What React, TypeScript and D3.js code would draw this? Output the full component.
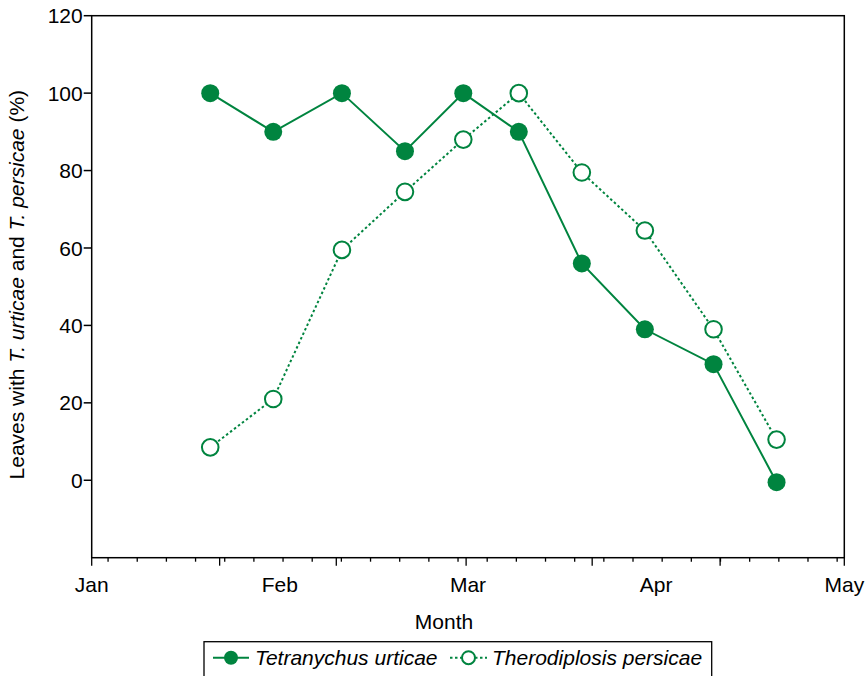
import { useEffect, useRef } from "react";
import * as d3 from "d3";

// sampling dates, in months after 1 Jan
const sampleMonths = [0.63, 0.965, 1.33, 1.665, 1.975, 2.27, 2.605, 2.94, 3.305, 3.64];
const urticae = [100, 90, 100, 85, 100, 90, 56, 39, 30, -0.5];
const persicae = [8.5, 21, 59.5, 74.5, 88, 100, 79.5, 64.5, 39, 10.5];

const monthLabels = ["Jan", "Feb", "Mar", "Apr", "May"];
const majorTicks = [0, 0.68, 1.3, 1.99, 2.66, 3.34, 4];
const yTicks = [0, 20, 40, 60, 80, 100, 120];

const GREEN = "#00843f";
const FONT = "'Liberation Sans', Arial, Helvetica, sans-serif";

export default function App() {
  const svgRef = useRef<SVGSVGElement>(null);

  useEffect(() => {
    if (!svgRef.current) return;
    const svg = d3.select(svgRef.current);
    svg.selectAll("*").remove();

    const left = 91.7, right = 844.3, top = 15.7, bottom = 557.7;
    const x = d3.scaleLinear().domain([0, 4]).range([left, right]);
    const y = d3.scaleLinear().domain([-20, 120]).range([bottom, top]);

    // frame
    svg.append("rect")
      .attr("x", left).attr("y", top)
      .attr("width", right - left).attr("height", bottom - top)
      .attr("fill", "none").attr("stroke", "#000").attr("stroke-width", 1.5);

    // y axis ticks + labels
    const yg = svg.append("g").attr("font-family", FONT).attr("font-size", 21);
    yTicks.forEach((v) => {
      yg.append("line")
        .attr("x1", left - 8).attr("x2", left)
        .attr("y1", y(v)).attr("y2", y(v))
        .attr("stroke", "#000").attr("stroke-width", 1.5);
      yg.append("text")
        .attr("x", left - 9).attr("y", y(v))
        .attr("dy", "0.36em")
        .attr("text-anchor", "end")
        .text(v);
    });

    // x axis: minor ticks, major ticks, month labels
    const minor = d3.range(0.087, 4, 0.155);
    minor.forEach((m) => {
      svg.append("line")
        .attr("x1", x(m)).attr("x2", x(m))
        .attr("y1", bottom).attr("y2", bottom + 4)
        .attr("stroke", "#000").attr("stroke-width", 1.3);
    });
    majorTicks.forEach((m) => {
      svg.append("line")
        .attr("x1", x(m)).attr("x2", x(m))
        .attr("y1", bottom).attr("y2", bottom + 8)
        .attr("stroke", "#000").attr("stroke-width", 1.3);
    });
    monthLabels.forEach((lab, i) => {
      svg.append("text")
        .attr("x", x(i)).attr("y", 592)
        .attr("text-anchor", "middle")
        .attr("font-family", FONT).attr("font-size", 21)
        .text(lab);
    });

    // axis titles
    svg.append("text")
      .attr("x", 444).attr("y", 629)
      .attr("text-anchor", "middle")
      .attr("font-family", FONT).attr("font-size", 21)
      .text("Month");

    const yt = svg.append("text")
      .attr("transform", `translate(24,${(top + bottom) / 2 - 2}) rotate(-90)`)
      .attr("text-anchor", "middle")
      .attr("font-family", FONT).attr("font-size", 21);
    yt.append("tspan").text("Leaves with ");
    yt.append("tspan").attr("font-style", "italic").text("T. urticae");
    yt.append("tspan").text(" and ");
    yt.append("tspan").attr("font-style", "italic").text("T. persicae");
    yt.append("tspan").text(" (%)");

    // series
    const lineU = d3.line<number>().x((_, i) => x(sampleMonths[i])).y((d) => y(d));
    svg.append("path")
      .attr("d", lineU(persicae))
      .attr("fill", "none").attr("stroke", GREEN).attr("stroke-width", 2)
      .attr("stroke-dasharray", "2.5,2.5");
    svg.append("path")
      .attr("d", lineU(urticae))
      .attr("fill", "none").attr("stroke", GREEN).attr("stroke-width", 2);

    svg.selectAll(".pu")
      .data(urticae)
      .enter().append("circle")
      .attr("cx", (_, i) => x(sampleMonths[i]))
      .attr("cy", (d) => y(d))
      .attr("r", 9)
      .attr("fill", GREEN);

    svg.selectAll(".pp")
      .data(persicae)
      .enter().append("circle")
      .attr("cx", (_, i) => x(sampleMonths[i]))
      .attr("cy", (d) => y(d))
      .attr("r", 8.3)
      .attr("fill", "#fff").attr("stroke", GREEN).attr("stroke-width", 2);

    // legend
    const lg = svg.append("g");
    lg.append("rect")
      .attr("x", 204).attr("y", 641.7)
      .attr("width", 507.7).attr("height", 50)
      .attr("fill", "none").attr("stroke", "#000").attr("stroke-width", 1.3);
    const ly = 657.7;
    lg.append("line")
      .attr("x1", 213).attr("x2", 249).attr("y1", ly).attr("y2", ly)
      .attr("stroke", GREEN).attr("stroke-width", 2);
    lg.append("circle").attr("cx", 231).attr("cy", ly).attr("r", 7).attr("fill", GREEN);
    lg.append("text")
      .attr("x", 255).attr("y", ly + 7)
      .attr("font-family", FONT).attr("font-size", 21).attr("font-style", "italic")
      .text("Tetranychus urticae");
    lg.append("line")
      .attr("x1", 450).attr("x2", 487).attr("y1", ly).attr("y2", ly)
      .attr("stroke", GREEN).attr("stroke-width", 2)
      .attr("stroke-dasharray", "2.5,2.5");
    lg.append("circle").attr("cx", 468.5).attr("cy", ly).attr("r", 6.5)
      .attr("fill", "#fff").attr("stroke", GREEN).attr("stroke-width", 2);
    lg.append("text")
      .attr("x", 492).attr("y", ly + 7)
      .attr("font-family", FONT).attr("font-size", 21).attr("font-style", "italic")
      .text("Therodiplosis persicae");
  }, []);

  return (
    <svg
      ref={svgRef}
      width={865}
      height={676}
      style={{ position: "absolute", left: 0, top: 0, background: "#fff" }}
    />
  );
}
